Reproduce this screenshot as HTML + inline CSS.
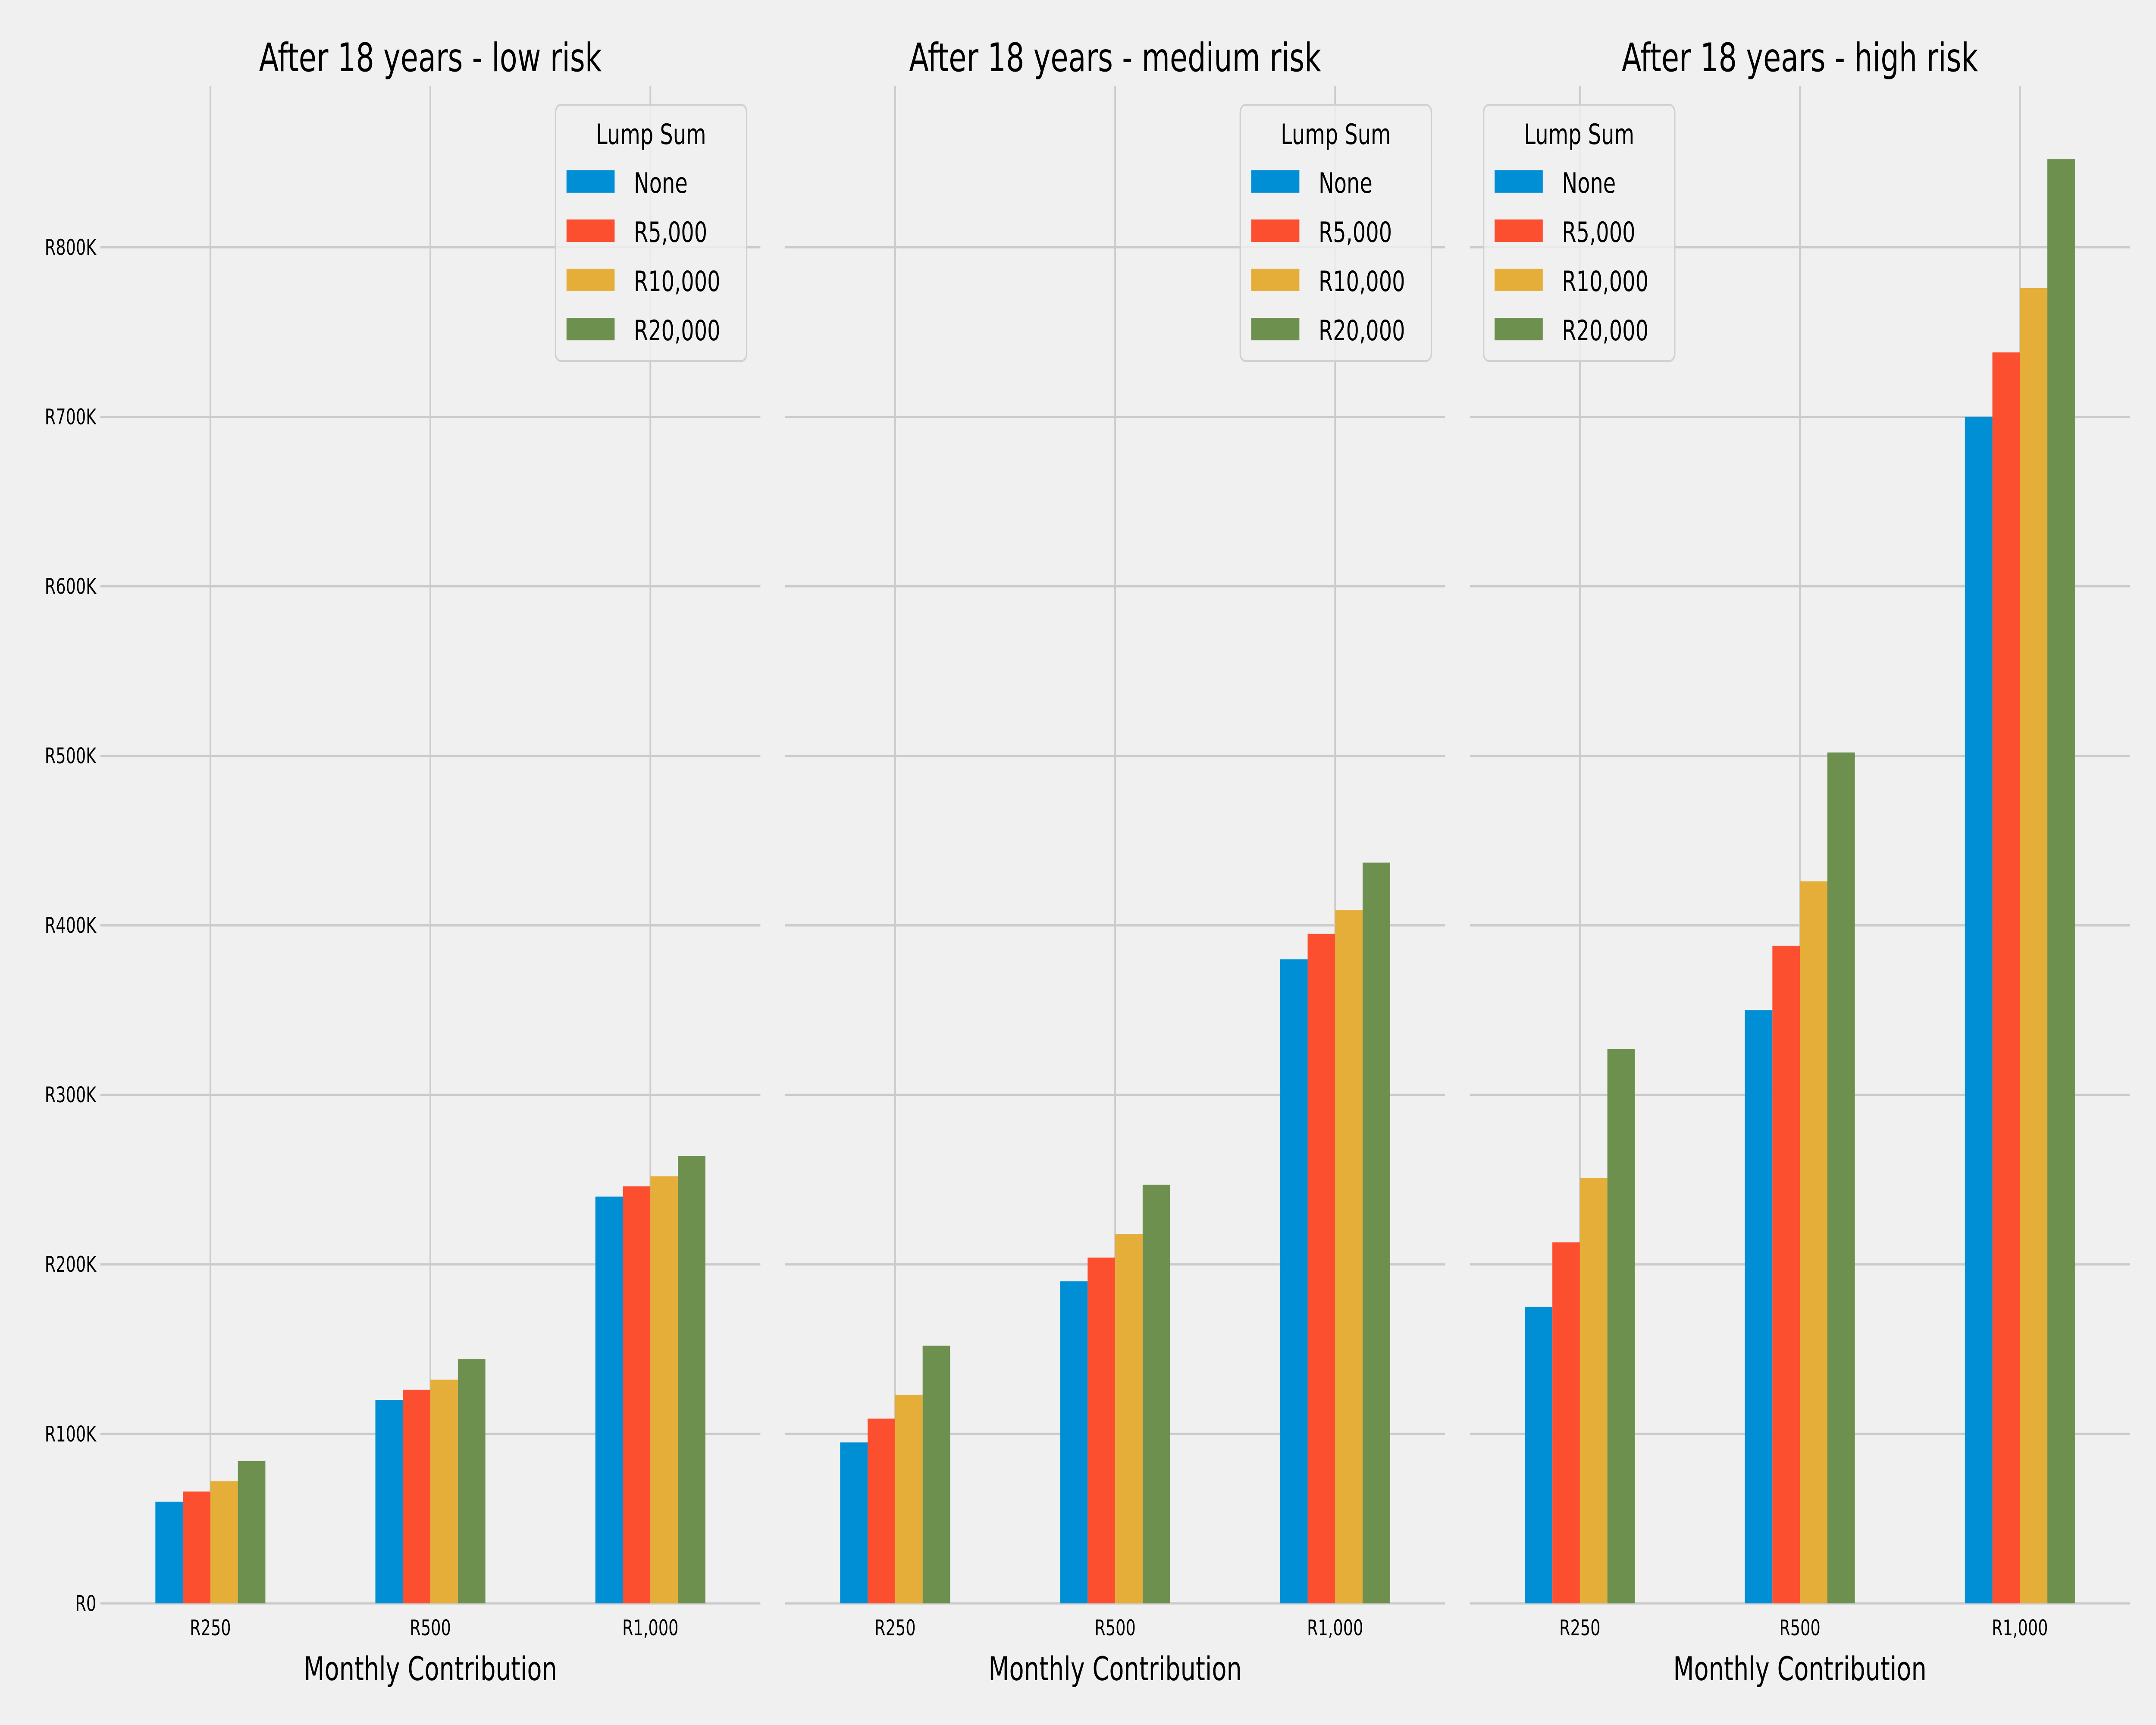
<!DOCTYPE html>
<html><head><meta charset="utf-8"><style>
html,body{margin:0;padding:0;background:#f0f0f0;width:100%;height:100%;overflow:hidden;}
svg{display:block;width:100vw;height:100vh;font-family:"DejaVu Sans","Liberation Sans",sans-serif;}
</style></head><body>
<svg viewBox="0 0 1568 922" preserveAspectRatio="none" xmlns="http://www.w3.org/2000/svg">
<rect x="0" y="0" width="1568" height="922" fill="#f0f0f0"/>
<g id="chart"></g>
</svg>
<script>
const categories = ["R250", "R500", "R1,000"];
const seriesNames = ["None", "R5,000", "R10,000", "R20,000"];
const panelTitles = ["After 18 years - low risk", "After 18 years - medium risk", "After 18 years - high risk"];
const lowRisk = [[60,120,240],[66,126,246],[72,132,252],[84,144,264]];
const mediumRisk = [[95,190,380],[109,204,395],[123,218,409],[152,247,437]];
const highRisk = [[175,350,700],[213,388,738],[251,426,776],[327,502,852]];
const yTicks = [0,100,200,300,400,500,600,700,800];
const yTickLabels = ["R0","R100K","R200K","R300K","R400K","R500K","R600K","R700K","R800K"];

const colors = ["#008fd5","#fc4f30","#e5ae38","#6d904f"];
const panels = [lowRisk, mediumRisk, highRisk];
const svg = document.getElementById('chart');
const NS = "http://www.w3.org/2000/svg";
const yBase = 857, yScale = 0.906, axTop = 46;
const panelLeft = [73, 571, 1069], unit = 160, pw = 480;
function yPos(v){ return yBase - v*yScale; }
function mk(tag, attrs, parent){ const e=document.createElementNS(NS,tag); for(const k in attrs) e.setAttribute(k,attrs[k]); (parent||svg).appendChild(e); return e; }

panels.forEach((data, p) => {
  const L = panelLeft[p];
  const xPos = c => L + unit*(c+0.5);
  const g = mk('g', {});
  
  
  yTicks.forEach((t, i) => {
    const ln = mk('line', {x1:L, x2:L+pw, y1:yPos(t), y2:yPos(t), stroke:'#cbcbcb', 'stroke-width':1.2}, g);
    
    
    if (p === 0) {
      const tx = mk('text', {x:L-3, y:yPos(t)+4, 'text-anchor':'end', 'font-size':11.5, fill:'#000'}, g);
      tx.textContent = yTickLabels[i];
      
      
    }
  });
  categories.forEach((c, ci) => {
    const ln = mk('line', {x1:xPos(ci), x2:xPos(ci), y1:axTop, y2:yBase, stroke:'#cbcbcb', 'stroke-width':1.2}, g);
    
    
    const tx = mk('text', {x:xPos(ci), y:874, 'text-anchor':'middle', 'font-size':11.5, fill:'#000'}, g);
    tx.textContent = c;
    
    
  });
  const bw = unit*0.5/4;
  data.forEach((vals, s) => {
    vals.forEach((v, ci) => {
      const x = xPos(ci) - unit*0.25 + s*bw;
      const r = mk('rect', {x:x, y:yPos(v), width:bw, height:yBase-yPos(v), fill:colors[s]}, g);
      
      
    });
  });
  const t = mk('text', {x:L+pw/2, y:38, 'text-anchor':'middle', 'font-size':21, fill:'#000'}, g);
  t.textContent = panelTitles[p];
  
  
  const xl = mk('text', {x:L+pw/2, y:898, 'text-anchor':'middle', 'font-size':17.5, fill:'#000'}, g);
  xl.textContent = 'Monthly Contribution';
  
  
  const lx = p === 2 ? L + 10 : L + pw - 149;
  const lg = mk('g', {}, g);
  
  
  mk('rect', {x:lx, y:56, width:139, height:137, rx:4, fill:'#f0f0f0', 'fill-opacity':0.8, stroke:'#d0d0d0', 'stroke-width':1}, lg);
  const lt = mk('text', {x:lx+69.5, y:77, 'text-anchor':'middle', 'font-size':15, fill:'#000'}, lg);
  lt.textContent = 'Lump Sum';
  
  
  seriesNames.forEach((n, s) => {
    const yy = 97 + s*26.3;
    const sw = mk('rect', {x:lx+8, y:yy-6, width:35, height:12, fill:colors[s]}, lg);
    
    
    const tx = mk('text', {x:lx+57, y:yy+6, 'font-size':15, fill:'#000'}, lg);
    tx.textContent = n;
    
    
  });
});
</script>
</body></html>
